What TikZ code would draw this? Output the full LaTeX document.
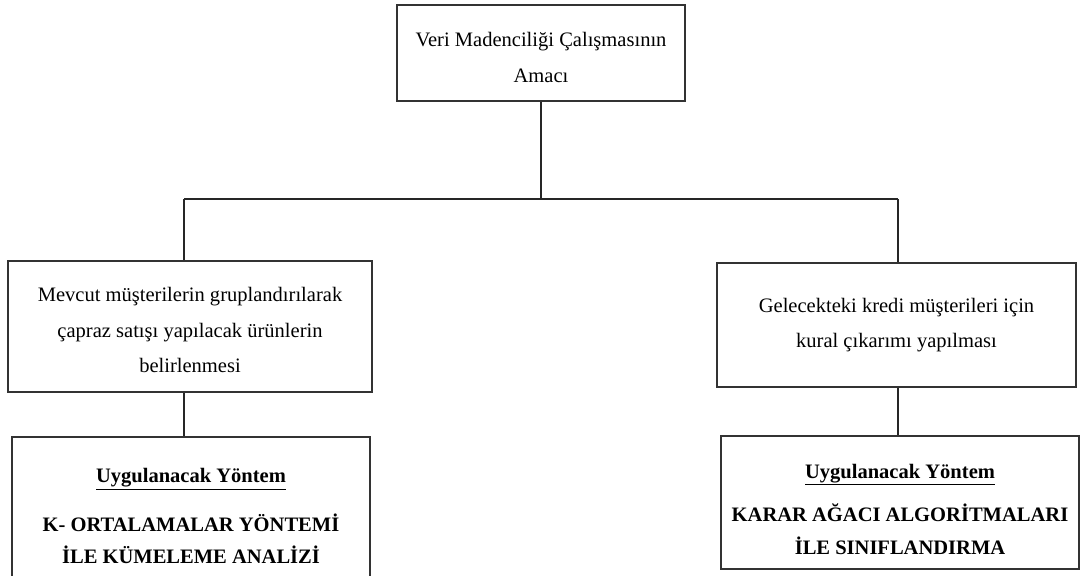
\documentclass[tikz,border=0pt]{standalone}
\usepackage{fontspec}
\setmainfont{Liberation Serif}
\usepackage{tikz}

% invisible strut that pushes a first line down
\newcommand{\topgap}[1]{\rule{0pt}{#1}}

\begin{document}
\begin{tikzpicture}[x=0.75pt, y=-0.75pt,
    box/.style={draw=black!80, line width=1.2pt, align=center, inner sep=0pt,
      font=\fontsize{15.4}{26.8}\selectfont},
    methodbox/.style={box, font=\fontsize{15.4}{24.5}\selectfont\bfseries},
    link/.style={draw=black!85, line width=1pt}
  ]

  % page
  \useasboundingbox (0,0) rectangle (1080,575);
  \clip (0,0) rectangle (1080,575);

  % goal
  \node[box, minimum width=216pt, minimum height=72pt] (goal) at (541,53)
    {\topgap{17pt}Veri Madenciliği Çalışmasının\\Amacı};

  % the two aims
  \node[box, minimum width=273pt, minimum height=98.25pt] (mevcut) at (190,326.5)
    {\topgap{16pt}Mevcut müşterilerin gruplandırılarak\\çapraz satışı yapılacak ürünlerin\\belirlenmesi};
  \node[box, minimum width=269.25pt, minimum height=93pt] (kredi) at (896.5,325)
    {Gelecekteki kredi müşterileri için\\kural çıkarımı yapılması};

  % methods
  \node[methodbox, minimum width=268.5pt, minimum height=107.25pt] (kmeans) at (191,508.5)
    {\topgap{22pt}\underline{Uygulanacak Yöntem}\\[12pt]K- ORTALAMALAR YÖNTEMİ\\İLE KÜMELEME ANALİZİ};
  \node[methodbox, minimum width=268.5pt, minimum height=99.75pt] (karar) at (900,502.5)
    {\topgap{20.5pt}\underline{Uygulanacak Yöntem}\\[8pt]KARAR AĞACI ALGORİTMALARI\\İLE SINIFLANDIRMA};

  % connectors
  \coordinate (hl) at (184,199);
  \coordinate (hr) at (898,199);
  \draw[link] (goal.south) -- (goal.south |- hl);
  \draw[link] (hl) -- (hr);
  \draw[link] (hl) -- (hl |- mevcut.north);
  \draw[link] (hr) -- (hr |- kredi.north);
  \draw[link] (hl |- mevcut.south) -- (hl |- kmeans.north);
  \draw[link] (hr |- kredi.south) -- (hr |- karar.north);

\end{tikzpicture}
\end{document}
